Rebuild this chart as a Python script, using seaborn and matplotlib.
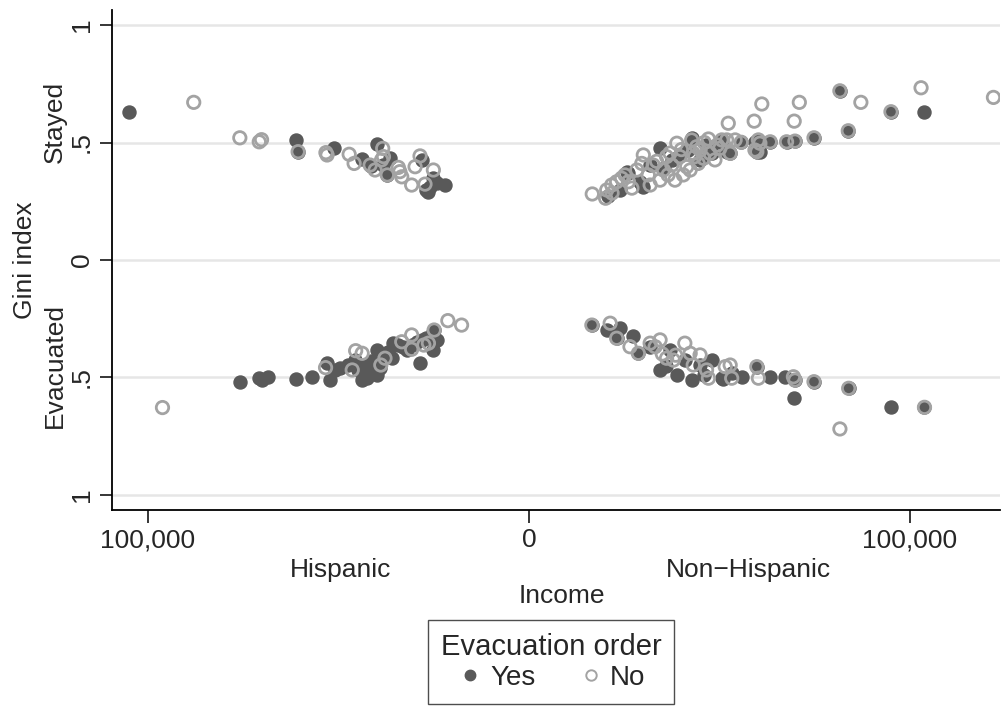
import numpy as np
import pandas as pd
import matplotlib
matplotlib.use("Agg")
import matplotlib.pyplot as plt
from matplotlib.lines import Line2D
import seaborn as sns

# ---- data: income in thousands, Gini index (absolute values) ----
# Hispanic, Stayed
hs_yes_inc  = [104.9, 61.2, 60.6, 51.1, 43.8, 40.0, 36.5, 41.6, 37.4, 28.2, 26.0, 24.2, 22.1, 26.4, 25.1, 38.3, 27.0]
hs_yes_gini = [0.631, 0.511, 0.461, 0.475, 0.430, 0.494, 0.433, 0.400, 0.362, 0.426, 0.312, 0.326, 0.319, 0.291, 0.348, 0.404, 0.300]
hs_no_inc   = [88.0, 75.9, 70.8, 70.2, 60.6, 53.3, 53.0, 47.2, 45.9, 38.4, 38.2, 38.7, 40.4, 41.7, 37.2, 34.3, 33.4, 30.8, 28.6, 29.9, 25.1, 27.3, 33.9]
hs_no_gini  = [0.671, 0.520, 0.503, 0.512, 0.461, 0.457, 0.447, 0.450, 0.411, 0.475, 0.440, 0.426, 0.383, 0.404, 0.362, 0.394, 0.354, 0.319, 0.443, 0.397, 0.383, 0.323, 0.376]

# Hispanic, Evacuated
he_yes_inc  = [75.9, 70.8, 70.2, 68.4, 61.2, 56.9, 53.1, 52.2, 50.9, 47.4, 43.9, 42.6, 40.9, 40.0, 40.0, 35.6, 36.0, 32.1, 28.6, 25.1, 24.2, 25.1, 28.2, 24.9, 45.7, 38.3, 34.4, 30.7, 49.6, 42.5,
               44.8, 41.5, 37.0, 33.0, 29.5, 27.0, 39.0]
he_yes_gini = [0.520, 0.501, 0.511, 0.499, 0.508, 0.499, 0.437, 0.511, 0.468, 0.447, 0.511, 0.447, 0.454, 0.383, 0.489, 0.354, 0.418, 0.383, 0.440, 0.305, 0.340, 0.383, 0.340, 0.298, 0.426, 0.417, 0.362, 0.362, 0.460, 0.502,
               0.470, 0.430, 0.390, 0.370, 0.350, 0.330, 0.460]
he_no_inc   = [96.2, 53.4, 46.4, 45.5, 43.8, 38.9, 37.8, 33.4, 30.8, 30.8, 27.6, 26.4, 24.9, 21.3, 17.7]
he_no_gini  = [0.628, 0.458, 0.468, 0.386, 0.397, 0.447, 0.418, 0.348, 0.319, 0.380, 0.362, 0.354, 0.298, 0.258, 0.277]

# Non-Hispanic, Stayed
ns_yes_inc  = [81.6, 95.0, 103.7, 83.8, 74.8, 69.8, 67.6, 63.3, 60.2, 59.8, 60.6, 55.7, 50.6, 52.8, 34.4, 29.6, 26.1, 23.9, 25.6, 29.1, 30.0, 42.7, 48.0, 50.1, 51.9, 59.3, 31.8, 37.5, 41.7, 44.9, 20.7,
               35.5, 39.0, 46.5]
ns_yes_gini = [0.720, 0.631, 0.631, 0.550, 0.520, 0.506, 0.503, 0.503, 0.511, 0.461, 0.461, 0.501, 0.511, 0.454, 0.475, 0.319, 0.369, 0.298, 0.376, 0.333, 0.312, 0.518, 0.454, 0.503, 0.461, 0.503, 0.404, 0.426, 0.468, 0.426, 0.272,
               0.390, 0.440, 0.490]
ns_no_inc   = [61.1, 70.95, 59.1, 69.6, 81.6, 87.1, 102.9, 95.0, 121.9, 83.8, 74.8, 69.8, 67.6, 63.3, 60.2, 59.8, 55.7, 52.3, 50.6, 52.8, 47.1,
               16.6, 20.1, 20.4, 21.7, 23.0, 24.3, 26.1, 28.3, 29.6, 30.0, 31.3, 32.6, 34.4, 35.3, 36.1, 37.5, 38.8, 39.6, 40.5, 41.4, 42.7,
               43.1, 44.4, 44.0, 45.8, 47.5, 48.8, 50.1, 51.9, 59.3, 60.6, 27.0, 31.8, 36.5, 38.3, 42.3, 44.9, 49.4, 54.1, 21.8, 25.2,
               33.5, 37.0, 40.0, 43.5, 46.0]
ns_no_gini  = [0.664, 0.671, 0.591, 0.591, 0.720, 0.671, 0.733, 0.631, 0.692, 0.550, 0.520, 0.506, 0.503, 0.503, 0.511, 0.461, 0.501, 0.582, 0.511, 0.454, 0.515,
               0.281, 0.263, 0.298, 0.319, 0.333, 0.348, 0.333, 0.383, 0.411, 0.447, 0.362, 0.404, 0.340, 0.383, 0.440, 0.404, 0.497, 0.440, 0.362, 0.397, 0.511,
               0.454, 0.411, 0.482, 0.433, 0.454, 0.426, 0.475, 0.511, 0.468, 0.497, 0.306, 0.319, 0.362, 0.340, 0.383, 0.468, 0.489, 0.511, 0.285, 0.362,
               0.420, 0.455, 0.470, 0.440, 0.500]

# Non-Hispanic, Evacuated
ne_yes_inc  = [16.5, 20.4, 23.9, 23.0, 27.4, 28.7, 31.8, 37.0, 34.4, 38.8, 42.7, 48.0, 50.6, 55.8, 63.3, 67.2, 69.8, 74.8, 69.6, 83.9, 95.0, 103.8, 59.8, 44.9, 40.9, 53.2,
               36.0, 46.0, 51.0]
ne_yes_gini = [0.277, 0.298, 0.291, 0.333, 0.323, 0.397, 0.369, 0.383, 0.468, 0.489, 0.511, 0.426, 0.503, 0.499, 0.499, 0.497, 0.511, 0.518, 0.589, 0.546, 0.627, 0.627, 0.454, 0.447, 0.425, 0.480,
               0.450, 0.490, 0.505]
ne_no_inc   = [16.5, 21.3, 23.0, 26.5, 28.7, 31.8, 34.4, 33.1, 36.1, 37.9, 40.9, 42.3, 44.9, 43.1, 46.6, 47.1, 51.5, 52.8, 53.2, 59.8, 60.2, 69.4, 69.8, 74.8, 83.9, 81.6, 103.8, 35.0, 38.5]
ne_no_gini  = [0.277, 0.269, 0.333, 0.369, 0.397, 0.354, 0.340, 0.369, 0.418, 0.426, 0.354, 0.397, 0.404, 0.447, 0.468, 0.503, 0.454, 0.447, 0.503, 0.454, 0.503, 0.497, 0.511, 0.518, 0.546, 0.719, 0.627, 0.400, 0.405]

x_ticks = [-100000, 0, 100000]
x_ticklabels = ["100,000", "0", "100,000"]
y_ticks = [1, 0.5, 0, -0.5, -1]
y_ticklabels = ["1", ".5", "0", ".5", "1"]
legend_labels = ["Yes", "No"]

# ---- build a tidy frame: Hispanic -> negative income, Evacuated -> negative Gini ----
rows = []
def add(inc, gini, xs, ys, order):
    for a, b in zip(inc, gini):
        rows.append({"income": xs * a * 1000, "gini": ys * b, "order": order})

add(hs_yes_inc, hs_yes_gini, -1, 1, "Yes")
add(hs_no_inc, hs_no_gini, -1, 1, "No")
add(he_yes_inc, he_yes_gini, -1, -1, "Yes")
add(he_no_inc, he_no_gini, -1, -1, "No")
add(ns_yes_inc, ns_yes_gini, 1, 1, "Yes")
add(ns_no_inc, ns_no_gini, 1, 1, "No")
add(ne_yes_inc, ne_yes_gini, 1, -1, "Yes")
add(ne_no_inc, ne_no_gini, 1, -1, "No")
df = pd.DataFrame(rows)

sns.set_theme(style="white")
plt.rcParams["font.family"] = ["Liberation Sans", "DejaVu Sans"]

YES_C = "#595959"
NO_C = "#a3a3a3"
FS = 19

fig = plt.figure(figsize=(10.01, 7.13), dpi=100)
ax = fig.add_axes([112 / 1001, 1 - 510 / 713, (1000 - 112) / 1001, 500 / 713])

sns.scatterplot(data=df[df.order == "Yes"], x="income", y="gini", ax=ax,
                color=YES_C, edgecolor=YES_C, s=88, linewidth=1.0, zorder=3, legend=False)
sns.scatterplot(data=df[df.order == "No"], x="income", y="gini", ax=ax,
                facecolor="none", edgecolor=NO_C, s=80, linewidth=2.0, zorder=4, legend=False)

ax.set_xlim(-109450, 123620)
ax.set_ylim(-1.064, 1.064)

ax.set_xticks(x_ticks)
ax.set_xticklabels(x_ticklabels, fontsize=FS)
ax.set_yticks(y_ticks)
ax.set_yticklabels(y_ticklabels, fontsize=FS, rotation=90, va="center")
ax.tick_params(axis="both", bottom=True, left=True, length=9, width=1.1,
               color="black", direction="out")
ax.tick_params(axis="x", pad=4)
ax.tick_params(axis="y", pad=4)

ax.grid(False)
for yv in y_ticks:
    ax.axhline(yv, color="#e6e6e6", lw=1.8, zorder=0)

for s in ["top", "right"]:
    ax.spines[s].set_visible(False)
for s in ["left", "bottom"]:
    ax.spines[s].set_color("black")
    ax.spines[s].set_linewidth(1.3)

ax.set_xlabel("")
ax.set_ylabel("")

# axis titles
fig.text(341 / 1001, 1 - 570 / 713, "Hispanic", ha="center", va="center", fontsize=FS)
fig.text(748 / 1001, 1 - 570 / 713, "Non\u2212Hispanic", ha="center", va="center", fontsize=FS)
fig.text(562 / 1001, 1 - 596 / 713, "Income", ha="center", va="center", fontsize=FS)
fig.text(25 / 1001, 1 - 260 / 713, "Gini index", ha="center", va="center", rotation=90, fontsize=FS)
fig.text(55 / 1001, 1 - 122 / 713, "Stayed", ha="center", va="center", rotation=90, fontsize=FS)
fig.text(55 / 1001, 1 - 365 / 713, "Evacuated", ha="center", va="center", rotation=90, fontsize=FS)

handles = [
    Line2D([], [], ls="none", marker="o", markersize=7.5, markerfacecolor=YES_C, markeredgecolor=YES_C),
    Line2D([], [], ls="none", marker="o", markersize=7.5, markerfacecolor="none", markeredgecolor=NO_C, markeredgewidth=1.4),
]
leg = fig.legend(handles, legend_labels, title="Evacuation order", loc="center",
                 bbox_to_anchor=(551 / 1001, 1 - 662 / 713), ncol=2, fontsize=20,
                 title_fontsize=21, frameon=True, fancybox=False, edgecolor="#222222",
                 handletextpad=0.2, columnspacing=1.5, handlelength=1.0, borderpad=0.45,
                 borderaxespad=0, labelspacing=0.2)
leg.get_frame().set_linewidth(1.0)
leg._legend_box.sep = 3

fig.savefig("out.png", dpi=100, facecolor="white")
